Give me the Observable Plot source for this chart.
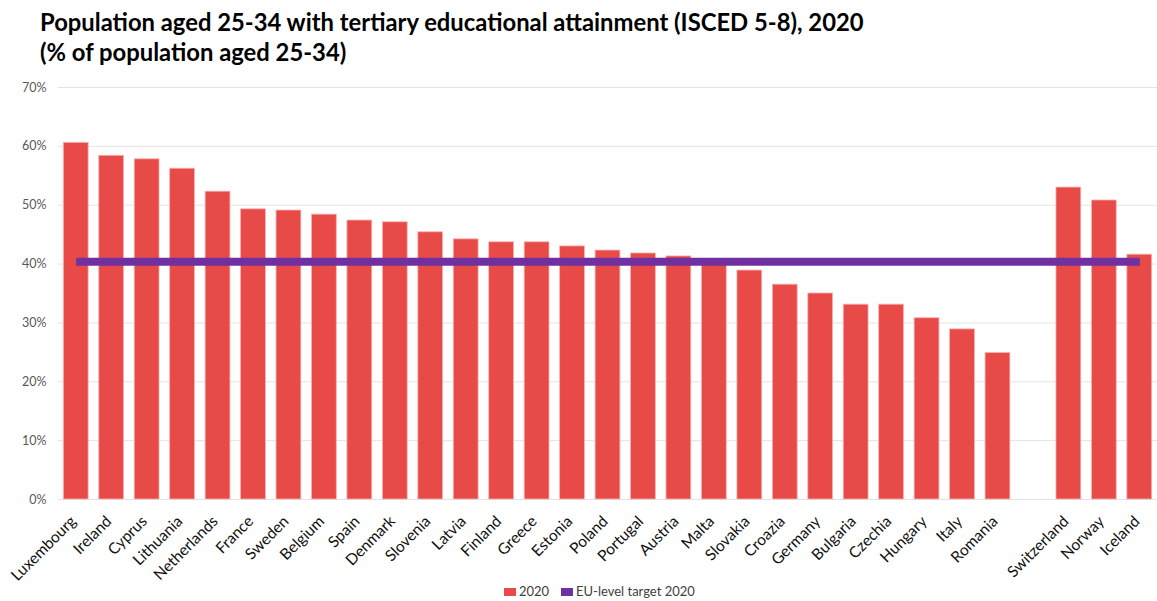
<!DOCTYPE html>
<html>
<head>
<meta charset="utf-8">
<script src="https://cdn.jsdelivr.net/npm/d3@7"></script>
<script src="https://cdn.jsdelivr.net/npm/@observablehq/plot@0.6"></script>
<style>
  html, body { margin: 0; padding: 0; background: #fff; width: 1157px; height: 601px; overflow: hidden; font-family: Lato, "Open Sans", sans-serif; }
  #title { position: absolute; left: 40px; top: 7px; font-weight: 700; font-size: 23.8px; line-height: 30px; color: #000; white-space: nowrap; }
  #chart { position: absolute; left: 0; top: 75px; }
  #legend { position: absolute; left: 0; top: 583px; width: 1157px; height: 16px; font-size: 13px; color: #404040; }
  .sw { position: absolute; top: 5px; width: 12px; height: 8px; }
  .lt { position: absolute; top: 0px; line-height: 16px; }
</style>
</head>
<body>
<div id="title">Population aged 25-34 with tertiary educational attainment (ISCED 5-8), 2020<br>(% of population aged 25-34)</div>
<div id="chart"></div>
<div id="legend">
  <div class="sw" style="left:504px;background:#E84A47"></div><div class="lt" style="left:519px">2020</div>
  <div class="sw" style="left:561px;background:#7030A0"></div><div class="lt" style="left:576px">EU-level target 2020</div>
</div>
<script>
const countries = ["Luxembourg","Ireland","Cyprus","Lithuania","Netherlands","France","Sweden","Belgium","Spain","Denmark","Slovenia","Latvia","Finland","Greece","Estonia","Poland","Portugal","Austria","Malta","Slovakia","Croazia","Germany","Bulgaria","Czechia","Hungary","Italy","Romania"," ","Switzerland","Norway","Iceland"];
const values2020 = [60.6,58.4,57.8,56.2,52.3,49.3,49.1,48.4,47.4,47.1,45.4,44.2,43.7,43.7,43.0,42.3,41.8,41.3,40.3,38.9,36.5,35.0,33.1,33.1,30.8,28.9,24.9,null,53.0,50.8,41.6];
const euTarget = 40.4;
const yTicks = [0,10,20,30,40,50,60,70];

const bars = countries.map((c, i) => ({country: c, value: values2020[i]})).filter(d => d.value != null);
const line = countries.map(c => ({country: c, target: euTarget}));

const plot = Plot.plot({
  width: 1157,
  height: 510,
  marginLeft: 58,
  marginRight: 0,
  marginTop: 12,
  marginBottom: 86,
  style: {fontFamily: "Lato, 'Open Sans', sans-serif", background: "transparent"},
  x: {domain: countries, paddingInner: 0.3, paddingOuter: 0.15, round: false, axis: null},
  y: {domain: [0, 70], axis: null},
  marks: [
    Plot.gridY(yTicks, {stroke: "#e3e3e3", strokeOpacity: 1, strokeWidth: 1}),
    Plot.barY(bars, {x: "country", y: "value", fill: "#E84A47", stroke: "#f7b3b2", strokeWidth: 0.8}),
    Plot.lineY(line, {x: "country", y: "target", stroke: "#7030A0", strokeWidth: 8, strokeLinecap: "butt"}),
    Plot.axisY(yTicks, {tickSize: 0, tickPadding: 12, tickFormat: d => d + "%", fontSize: 12.5, color: "#595959", label: null}),
    Plot.text(countries.filter(c => c.trim() !== ""), {x: d => d, frameAnchor: "bottom", dy: 15, dx: -7, rotate: -45, textAnchor: "end", lineAnchor: "top", fontSize: 15.5, fill: "#111"})
  ]
});
document.getElementById("chart").appendChild(plot);
</script>
</body>
</html>
